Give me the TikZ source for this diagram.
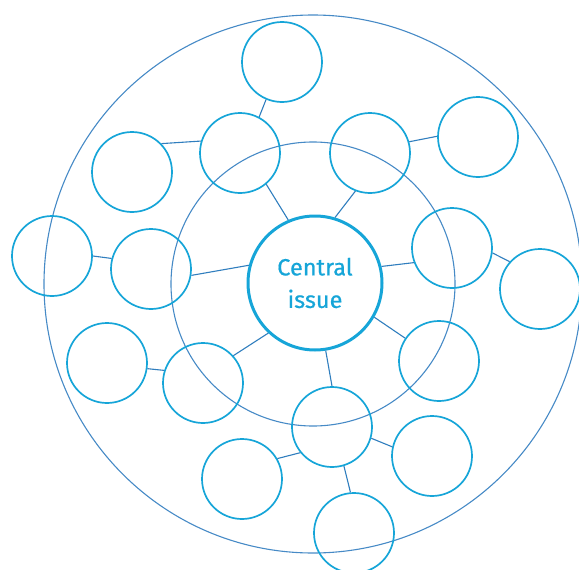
\documentclass[tikz,border=0pt]{standalone}
\usepackage{fontspec}
\setmainfont{Fira Sans}
\newfontfamily\policecentre[FakeBold=0.6]{Fira Sans}
\usepackage{tikz}
\usetikzlibrary{positioning}
\definecolor{cyanbord}{RGB}{22,165,216}
\definecolor{bleulien}{RGB}{48,126,190}
\definecolor{bleuanneau}{RGB}{70,138,198}

\tikzset{
  petit/.style={circle, draw=cyanbord, line width=1.7pt, minimum size=80pt, inner sep=0pt},
  central/.style={circle, draw=cyanbord, line width=3pt, minimum size=134pt, inner sep=0pt,
    text=cyanbord, align=center, font=\policecentre\fontsize{23.5}{32.5}\selectfont},
  lien/.style={bleulien, line width=1.1pt},
  anneau/.style={bleuanneau, line width=1.1pt}
}

\begin{document}
\begin{tikzpicture}[x=1pt, y=-1pt]
% Cadre
\useasboundingbox (0,0) rectangle (579,570);
\clip (0,0) rectangle (579,570);

% Anneaux
\draw[anneau] (313,284) circle[radius=269];
\draw[anneau] (313,284) circle[radius=142];

% Noeud central
\node[central] (ci) at (315,283) {Central\\issue};

% Petits cercles
\foreach \nom/\x/\y in {A/282/62, B/240/153, C/132/172, D/52/256, E/151/269,
    F/370/153, G/478/137, H/452/248, I/540/289, J/439/361, K/332/427,
    L/432/456, M/354/533, O/107/363, P/203/383, Q/242/479} {
    \node[petit] (\nom) at (\x,\y) {};
}

% Liens vers le centre
\foreach \a/\b in {B.310/ci.113, F.249/ci.73, H.201/ci.14, J.146/ci.330,
    K.90/ci.279, P.42/ci.227, E.351/ci.165} {
    \draw[lien] (\a) -- (\b);
}

% Liens secondaires
\foreach \a/\b in {A.247/B.62, C.44/B.163, F.16/G.179, H.353/I.138,
    K.344/L.167, K.287/M.95, K.219/Q.30, D.0/E.165, O.352/P.162} {
    \draw[lien] (\a) -- (\b);
}

\end{tikzpicture}
\end{document}
